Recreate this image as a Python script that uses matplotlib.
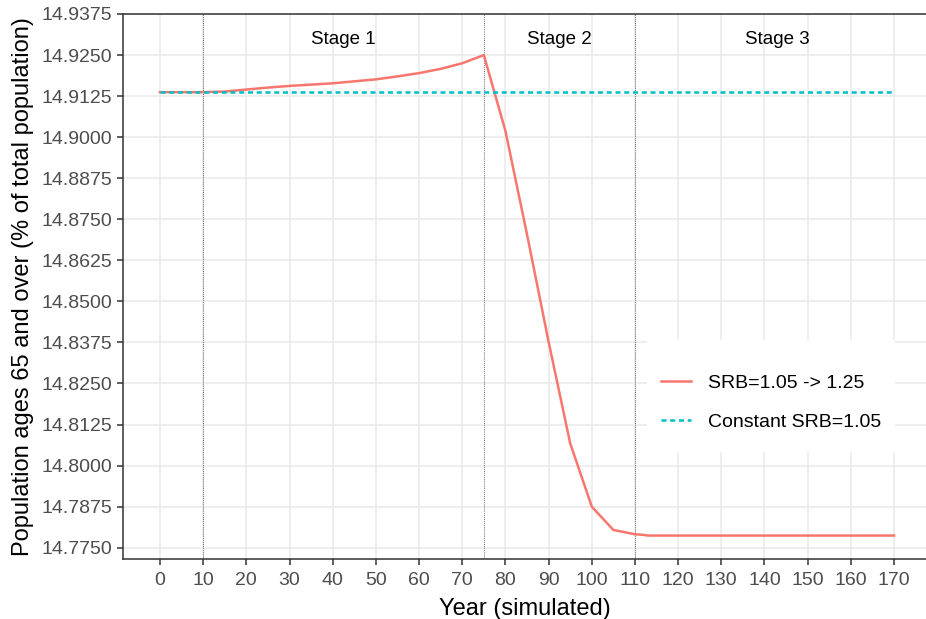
import matplotlib
matplotlib.use("Agg")
import matplotlib.pyplot as plt
from matplotlib.patches import Rectangle

plt.rcParams['font.family'] = ['Liberation Sans', 'DejaVu Sans']

# 연도 (simulated)
years = [0, 5, 10, 15, 20, 25, 30, 35, 40, 45, 50, 55, 60, 65, 70, 75,
         80, 85, 90, 95, 100, 105, 110, 112, 113, 120, 130, 140, 150, 160, 170]
srb_change = [14.9137, 14.9137, 14.9137, 14.9139, 14.9145, 14.9151, 14.9156, 14.9160,
              14.9164, 14.9170, 14.9176, 14.9185, 14.9195, 14.9208, 14.9225, 14.9250,
              14.9019, 14.8704, 14.8377, 14.8068, 14.7875, 14.7804, 14.7791, 14.7789,
              14.7787, 14.7787, 14.7787, 14.7787, 14.7787, 14.7787, 14.7787]
const_years = [0, 170]
srb_const = [14.9137, 14.9137]

stage_breaks = [10, 75, 110]
stage_labels = ['Stage 1', 'Stage 2', 'Stage 3']
stage_label_x = [42.5, 92.5, 143]

xticks = list(range(0, 171, 10))
yticks = [14.775 + 0.0125 * i for i in range(14)]

fig = plt.figure(figsize=(9.26, 6.19), dpi=100)
ax = fig.add_axes([123 / 926, 60 / 619, 803 / 926, 545 / 619])

ax.plot(years, srb_change, color='#F8766D', lw=1.8, label='SRB=1.05 -> 1.25', zorder=3)
ax.plot(const_years, srb_const, color='#00BFC4', lw=1.8, ls=(0, (2.0, 1.5)),
        label='Constant SRB=1.05', zorder=3)

for b in stage_breaks:
    ax.axvline(b, color='#333333', lw=0.6, ls=(0, (1, 1.5)), zorder=1.5)
for lx, lab in zip(stage_label_x, stage_labels):
    ax.text(lx, 14.9296, lab, ha='center', va='center', fontsize=13.5, color='black')

ax.set_xlim(-8.57, 177.41)
ax.set_ylim(14.77156, 14.9375)
ax.set_xticks(xticks)
ax.set_yticks(yticks)
ax.set_yticklabels([f'{t:.4f}' for t in yticks])
ax.tick_params(axis='both', labelsize=14, labelcolor='#4D4D4D', color='#333333',
               length=4, width=1.1)
ax.tick_params(axis='x', pad=5.5)
ax.tick_params(axis='y', pad=4)
ax.grid(True, color='#EBEBEB', lw=1.2)
ax.set_axisbelow(True)
for s in ['left', 'bottom', 'top']:
    ax.spines[s].set_color('#333333')
    ax.spines[s].set_linewidth(1.1)
ax.spines['right'].set_visible(False)

ax.set_xlabel('Year (simulated)', fontsize=17, labelpad=6)
ax.set_ylabel('Population ages 65 and over (% of total population)', fontsize=17, labelpad=5)

# 범례 배경 (흰색 박스)
ax.add_patch(Rectangle((0.6526, 0.1963), 0.3088, 0.2055, transform=ax.transAxes,
                       facecolor='white', edgecolor='none', zorder=1))
leg = ax.legend(loc='center', bbox_to_anchor=(0.807, 0.287), fontsize=14, frameon=False,
                handlelength=1.55, handletextpad=0.86, labelspacing=1.08, borderpad=0)

fig.savefig('out.png', dpi=100)
